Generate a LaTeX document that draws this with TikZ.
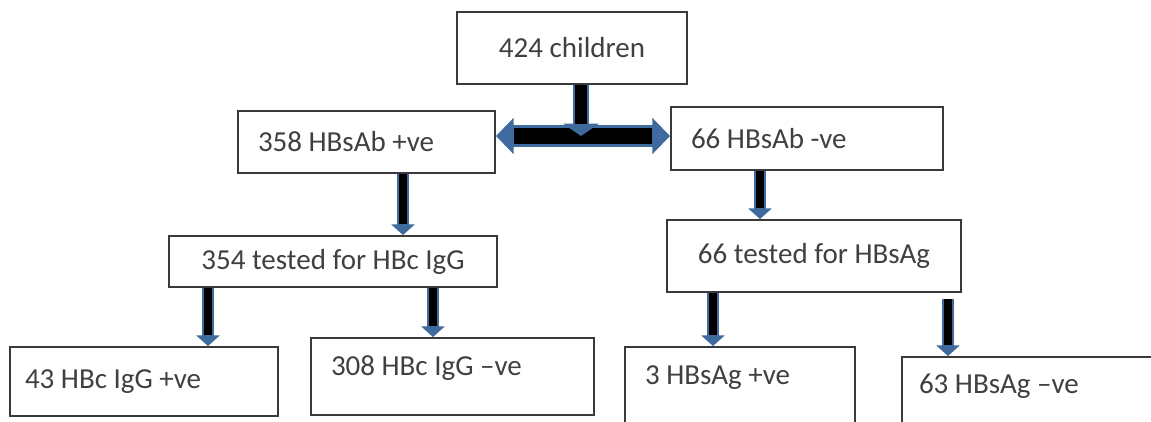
\documentclass[tikz,border=0pt]{standalone}
\usepackage{fontspec}
\setmainfont{Carlito}
\usetikzlibrary{positioning,arrows.meta}
\definecolor{arrowblue}{HTML}{3F6A9E}
\definecolor{boxline}{HTML}{3A3A3A}
\definecolor{boxtext}{HTML}{404040}

\begin{document}
\begin{tikzpicture}[font=\fontsize{16.5pt}{20pt}\selectfont]
    \tikzstyle{box}=[draw=boxline, line width=1.1pt, text=boxtext, inner xsep=0.4cm, align=flush left, on grid]
    \tikzstyle{conn}=[draw=black, line width=4pt, shorten >=6pt, preaction={draw=arrowblue, line width=6.5pt, shorten >=0pt, -{Triangle[length=6pt,width=13pt]}}]
    \tikzstyle{downconn}=[draw=black, line width=6.5pt, shorten >=7pt, preaction={draw=arrowblue, line width=9.5pt, shorten >=0pt, -{Triangle[length=7pt,width=20pt]}}]
    \tikzstyle{sideconn}=[draw=black, line width=9pt, shorten >=10pt, shorten <=10pt, preaction={draw=arrowblue, line width=12pt, shorten >=0pt, shorten <=0pt, {Triangle[length=10pt,width=20pt]}-{Triangle[length=10pt,width=20pt]}}]

    \useasboundingbox (0,0) rectangle (23.02,-8.42);

    \node[box,align=flush center,text width=3.8cm,minimum height=1.44cm] (children) at (11.44,-0.96) {424 children};

    \node[box,text width=4.34cm,minimum height=1.24cm,below left=1.88cm and 4.11cm of children] (hbsabpos) {358 HBsAb +ve};
    \node[box,text width=4.64cm,minimum height=1.26cm,below right=1.81cm and 4.7cm of children] (hbsabneg) {66 HBsAb -ve};

    \node[box,align=flush center,text width=5.76cm,minimum height=1.02cm,below left=2.39cm and 0.67cm of hbsabpos] (igg) {354 tested for HBc IgG};
    \node[box,align=flush center,text width=5.08cm,minimum height=1.44cm,below right=2.35cm and 0.14cm of hbsabneg] (hbsag) {66 tested for HBsAg};

    \node[box,inner xsep=0.3cm,text width=4.76cm,minimum height=1.38cm,below left=2.4cm and 3.78cm of igg] (iggpos) {43 HBc IgG +ve};
    \node[box,text width=4.86cm,minimum height=1.54cm,text depth=0.44cm,below right=2.3cm and 2.39cm of igg] (iggneg) {308 HBc IgG –ve};
    \node[box,text width=3.8cm,minimum height=1.86cm,text depth=0.74cm,below left=2.75cm and 1.48cm of hbsag] (agpos) {3 HBsAg +ve};
    \node[box,inner xsep=0.34cm,text width=4.58cm,minimum height=1.86cm,text depth=0.78cm,below right=2.95cm and 4.39cm of hbsag] (agneg) {63 HBsAg –ve};

    \coordinate (split) at (11.62,-2.72);
    \draw[sideconn] (hbsabpos.east |- split) -- (hbsabneg.west |- split);
    \draw[downconn] (children.south -| split) -- (split);

    \draw[conn] ([xshift=0.73cm]hbsabpos.south) -- ([xshift=0.73cm]hbsabpos.south |- igg.north);
    \draw[conn] ([xshift=-0.94cm]hbsabneg.south) -- ([xshift=-0.94cm]hbsabneg.south |- hbsag.north);
    \draw[conn] ([xshift=-2.5cm]igg.south) -- ([xshift=-2.5cm]igg.south |- iggpos.north);
    \draw[conn] ([xshift=2cm]igg.south) -- ([xshift=2cm]igg.south |- iggneg.north);
    \draw[conn] ([xshift=-2.02cm]hbsag.south) -- ([xshift=-2.02cm]hbsag.south |- agpos.north);
    \draw[conn,shorten <=3.5pt] ([xshift=2.68cm]hbsag.south) -- ([xshift=2.68cm]hbsag.south |- agneg.north);
\end{tikzpicture}
\end{document}
